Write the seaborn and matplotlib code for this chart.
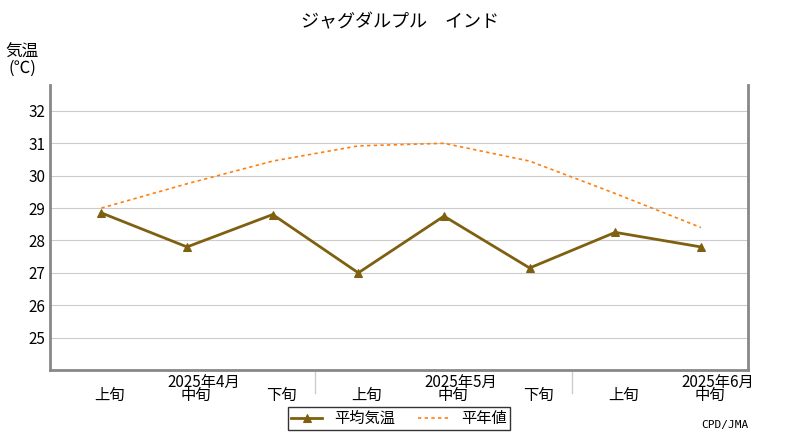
import matplotlib
matplotlib.use("Agg")
import matplotlib.pyplot as plt
import seaborn as sns
import pandas as pd

plt.rcParams["font.family"] = "Noto Sans CJK JP"

periods = ["上旬", "中旬", "下旬", "上旬", "中旬", "下旬", "上旬", "中旬"]
months = ["2025年4月", "2025年5月", "2025年6月"]
avg_temp = [28.85, 27.8, 28.8, 27.0, 28.75, 27.15, 28.25, 27.8]
normal = [29.0, 29.75, 30.45, 30.92, 31.0, 30.45, 29.45, 28.4]

x = list(range(len(periods)))
df = pd.DataFrame({"x": x, "avg": avg_temp, "normal": normal})

fig = plt.figure(figsize=(8, 4.4), dpi=100)
ax = fig.add_axes([50/800, 1-370/440, 698/800, 285/440])

sns.lineplot(data=df, x="x", y="normal", ax=ax, color="#ff7f0e", lw=1.2,
             linestyle=(0, (2, 2)), label="平年値")
sns.lineplot(data=df, x="x", y="avg", ax=ax, color="#7f6010", lw=2,
             marker="^", markersize=6, markeredgecolor="#7f6010", label="平均気温")

ax.set_xlim(-0.6, 7.55)
ax.set_ylim(24.0, 32.8)
ax.set_yticks(range(25, 33))
ax.tick_params(axis="y", length=0, labelsize=11)
ax.grid(axis="y", color="#cccccc", lw=0.8)
ax.set_axisbelow(True)
for s in ["left", "bottom", "right"]:
    ax.spines[s].set_color("#888888")
    ax.spines[s].set_linewidth(2)
ax.spines["top"].set_visible(False)
ax.set_xticks(x)
ax.set_xticklabels([])
ax.tick_params(axis="x", length=0)
ax.set_xlabel("")
ax.set_ylabel("")

for i, p in enumerate(periods):
    ax.text(i + 0.1, -0.09, p, transform=ax.get_xaxis_transform(), ha="center", va="center", fontsize=11)
for k, m in enumerate(months):
    ax.text(1 + 3*k + 0.2, -0.045, m, transform=ax.get_xaxis_transform(), ha="center", va="center", fontsize=11)
for sx in [2.5, 5.5]:
    ax.plot([sx, sx], [0, -0.08], transform=ax.get_xaxis_transform(), color="#cccccc", lw=1, clip_on=False)

handles, labels = ax.get_legend_handles_labels()
leg = ax.legend(handles[::-1], labels[::-1], loc="center", bbox_to_anchor=(0.5, -0.17), ncol=2,
                frameon=True, fancybox=False, edgecolor="black", fontsize=11,
                handlelength=2, borderpad=0.2, columnspacing=1.5)

fig.text(0.5, 1-22/440, "ジャグダルプル　インド", ha="center", va="center", fontsize=13)
fig.text(22/800, 1-60/440, "気温\n(℃)", ha="center", va="center", fontsize=12, linespacing=0.9)
fig.text(748/800, 1-425/440, "CPD/JMA", ha="right", va="center", fontsize=8, family="DejaVu Sans Mono")

fig.savefig("out.png", dpi=100)
